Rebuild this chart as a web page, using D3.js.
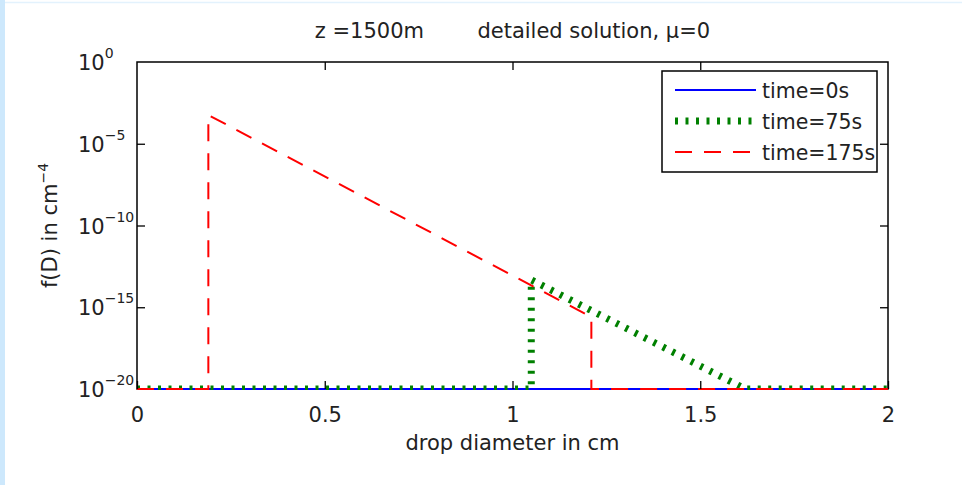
<!DOCTYPE html>
<html>
<head>
<meta charset="utf-8">
<script src="https://cdn.jsdelivr.net/npm/d3@7"></script>
<style>
  body { margin: 0; background: #fff; }
  svg { display: block; font-family: "DejaVu Sans", sans-serif; }
  .tick line { stroke: #000; stroke-width: 1.3; }
</style>
</head>
<body>
<svg id="chart" width="962" height="485"></svg>
<script>
// data
const seriesNames = ['time=0s', 'time=75s', 'time=175s'];
const diam0 = [0, 2];
const f0 = [1e-20, 1e-20];
const diam75 = [0, 1.05, 1.05, 1.62, 2];
const f75 = [1e-20, 1e-20, 4.7e-14, 1e-20, 1e-20];
const diam175 = [0, 0.19, 0.19, 1.21, 1.21, 2];
const f175 = [1e-20, 1e-20, 5.7e-4, 2.5e-16, 1e-20, 1e-20];
const xTicks = [0, 0.5, 1, 1.5, 2];
const yExps = [0, -5, -10, -15, -20];

const svg = d3.select('#chart');
const W = 962, H = 485;
const margin = {left: 137, right: W - 888, top: 62, bottom: H - 389};
const plotW = W - margin.left - margin.right;
const plotH = H - margin.top - margin.bottom;

// page frame bits
svg.append('rect').attr('x', 0).attr('y', 0).attr('width', 5).attr('height', H).attr('fill', '#cde8fc');
svg.append('line').attr('x1', 5).attr('x2', W).attr('y1', 2.5).attr('y2', 2.5)
  .attr('stroke', '#e3f2fd').attr('stroke-width', 1.5);

const x = d3.scaleLinear().domain([0, 2]).range([0, plotW]);
const y = d3.scaleLog().domain([1e-20, 1]).range([plotH, 0]);

const g = svg.append('g').attr('transform', `translate(${margin.left},${margin.top})`);

// box first, lines go over it (bottom row is drawn on the axis)
g.append('rect').attr('width', plotW).attr('height', plotH)
  .attr('fill', 'none').attr('stroke', '#000').attr('stroke-width', 1.5);

svg.append('defs').append('clipPath').attr('id', 'plot-clip')
  .append('rect').attr('x', 0).attr('y', -2).attr('width', plotW).attr('height', plotH + 3);

const series = [
  {name: seriesNames[0], xs: diam0, ys: f0, color: '#0000ff', width: 2, dash: null},
  {name: seriesNames[1], xs: diam75, ys: f75, color: '#008000', width: 7, dash: '3,7.5'},
  {name: seriesNames[2], xs: diam175, ys: f175, color: '#ff0000', width: 2, dash: '17,12'},
];

const line = d3.line().x(d => x(d[0])).y(d => y(d[1]));

g.append('g').attr('clip-path', 'url(#plot-clip)')
  .selectAll('.series')
  .data(series)
  .join('path')
  .attr('class', 'series')
  .attr('d', s => line(s.xs.map((v, i) => [v, s.ys[i]])))
  .attr('fill', 'none')
  .attr('stroke', s => s.color)
  .attr('stroke-width', s => s.width)
  .attr('stroke-dasharray', s => s.dash);

// axes, ticks pointing inward like matlab
const fontSize = 21;
g.append('g')
  .attr('transform', `translate(0,${plotH})`)
  .call(d3.axisBottom(x).tickValues(xTicks).tickSizeInner(-8).tickSizeOuter(0).tickPadding(18)
    .tickFormat(d3.format('')))
  .call(a => a.select('.domain').remove())
  .call(a => a.selectAll('text').attr('font-size', fontSize).attr('fill', '#222')
    .attr('font-family', '"DejaVu Sans", sans-serif'));
g.append('g')
  .call(d3.axisTop(x).tickValues(xTicks.slice(1, -1)).tickSize(-8).tickFormat(''))
  .call(a => a.select('.domain').remove());

const yTickVals = yExps.map(e => Math.pow(10, e));
g.append('g')
  .call(d3.axisLeft(y).tickValues(yTickVals.slice(1, -1)).tickSize(-8).tickFormat(''))
  .call(a => a.select('.domain').remove());
g.append('g')
  .attr('transform', `translate(${plotW},0)`)
  .call(d3.axisRight(y).tickValues(yTickVals.slice(1, -1)).tickSize(-8).tickFormat(''))
  .call(a => a.select('.domain').remove());

// y tick labels 10^e
const yLab = g.selectAll('.ylab')
  .data(yExps)
  .join('text')
  .attr('class', 'ylab')
  .attr('x', -59)
  .attr('y', e => y(Math.pow(10, e)) + 8)
  .attr('fill', '#222')
  .attr('font-size', fontSize);
yLab.append('tspan').text('10');
yLab.append('tspan').attr('dy', -12).attr('font-size', 14).text(e => e === 0 ? '0' : '\u2212' + Math.abs(e));

// title and labels
svg.append('text')
  .attr('x', margin.left + plotW / 2).attr('y', 38)
  .attr('text-anchor', 'middle').attr('font-size', fontSize).attr('fill', '#222')
  .style('white-space', 'pre')
  .text('z =1500m        detailed solution, \u03bc=0');

svg.append('text')
  .attr('x', margin.left + plotW / 2).attr('y', 450)
  .attr('text-anchor', 'middle').attr('font-size', fontSize).attr('fill', '#222')
  .text('drop diameter in cm');

const yl = svg.append('text')
  .attr('transform', `translate(57,${margin.top + plotH / 2}) rotate(-90)`)
  .attr('text-anchor', 'middle').attr('font-size', fontSize).attr('fill', '#222');
yl.append('tspan').text('f(D) in cm');
yl.append('tspan').attr('dy', -9).attr('font-size', 14).text('\u22124');

// legend
const leg = svg.append('g').attr('transform', 'translate(662,71)');
leg.append('rect').attr('width', 215).attr('height', 101)
  .attr('fill', '#fff').attr('stroke', '#000').attr('stroke-width', 1.5);
const rows = leg.selectAll('.entry')
  .data(series)
  .join('g')
  .attr('class', 'entry')
  .attr('transform', (d, i) => `translate(0,${19 + i * 31})`);
rows.append('line')
  .attr('x1', 13).attr('x2', 94)
  .attr('stroke', d => d.color)
  .attr('stroke-width', d => d.width)
  .attr('stroke-dasharray', d => d.dash);
rows.append('text')
  .attr('x', 100).attr('y', 8)
  .attr('font-size', 20.5).attr('fill', '#222')
  .text(d => d.name);
</script>
</body>
</html>
